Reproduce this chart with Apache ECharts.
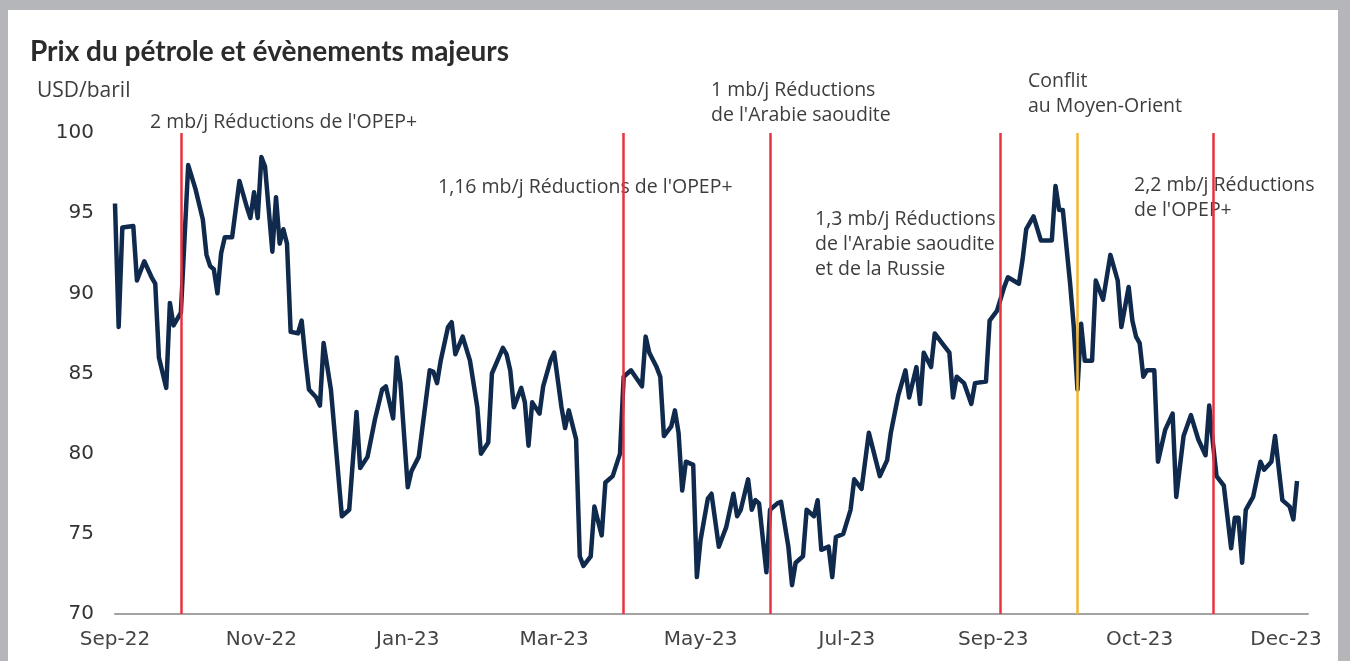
<!DOCTYPE html>
<html>
<head>
<meta charset="utf-8">
<script src="https://cdn.jsdelivr.net/npm/echarts@6/dist/echarts.min.js"></script>
<style>
html, body { margin: 0; padding: 0; background: #b4b6b9; }
#main { width: 1350px; height: 661px; }
</style>
</head>
<body>
<div id="main"></div>
<script>
// libellés de l'axe des x (un tous les 40 jours de cotation)
var monthLabels = ['Sep-22', 'Nov-22', 'Jan-23', 'Mar-23', 'May-23', 'Jul-23', 'Sep-23', 'Oct-23', 'Dec-23'];

// jour de cotation (index) et prix du baril
var days = [0, 1, 2, 5, 6, 8, 10, 11, 12, 14, 15, 16, 18, 20, 22, 24, 25, 26, 27, 28, 29, 30, 32, 34, 36, 37, 38, 39, 40, 41, 43, 44, 45, 46, 47, 48, 50, 51, 52, 53, 55, 56, 57, 59, 62, 64, 66, 67, 69, 71, 73, 74, 76, 77, 78, 80, 81, 83, 86, 87, 88, 89, 91, 92, 93, 95, 97, 99, 100, 102, 103, 106, 107, 108, 109, 111, 112, 113, 114, 116, 117, 119, 120, 122, 123, 124, 126, 127, 128, 130, 131, 133, 134, 136, 138, 139, 141, 144, 145, 146, 148, 149, 150, 152, 153, 154, 155, 156, 158, 159, 160, 162, 163, 165, 166, 167, 169, 170, 171, 173, 174, 175, 176, 178, 179, 181, 182, 184, 185, 186, 188, 189, 191, 192, 193, 195, 196, 197, 199, 201, 202, 204, 206, 209, 211, 212, 214, 216, 217, 219, 220, 221, 223, 224, 226, 228, 229, 230, 232, 234, 235, 238, 239, 241, 243, 244, 247, 248, 249, 251, 253, 256, 257, 258, 259, 261, 262, 263, 264, 265, 267, 268, 270, 272, 274, 275, 277, 278, 279, 280, 281, 282, 284, 285, 287, 289, 290, 292, 294, 296, 298, 299, 300, 301, 303, 305, 306, 307, 308, 309, 311, 313, 314, 316, 317, 319, 321, 322, 323];
var prices = [95.6, 87.9, 94.1, 94.2, 90.8, 92.0, 91.0, 90.6, 86.0, 84.1, 89.4, 88.0, 88.8, 98.0, 96.5, 94.6, 92.4, 91.7, 91.5, 90.0, 92.5, 93.5, 93.5, 97.0, 95.4, 94.7, 96.3, 94.7, 98.5, 97.9, 92.6, 96.0, 93.1, 94.0, 93.1, 87.6, 87.5, 88.3, 86.0, 84.0, 83.5, 83.0, 86.9, 84.0, 76.1, 76.5, 82.6, 79.1, 79.8, 82.1, 84.0, 84.2, 82.2, 86.0, 84.4, 77.9, 78.9, 79.8, 85.2, 85.1, 84.4, 85.8, 87.9, 88.2, 86.2, 87.3, 85.8, 82.9, 80.0, 80.7, 85.0, 86.6, 86.2, 85.2, 82.9, 84.1, 83.2, 80.5, 83.2, 82.5, 84.2, 85.8, 86.3, 82.9, 81.6, 82.7, 80.9, 73.6, 73.0, 73.6, 76.7, 74.9, 78.2, 78.6, 80.0, 84.8, 85.2, 84.2, 87.3, 86.3, 85.4, 84.8, 81.1, 81.7, 82.7, 81.3, 77.7, 79.5, 79.3, 72.3, 74.6, 77.2, 77.5, 74.2, 74.8, 75.4, 77.5, 76.1, 76.5, 78.4, 76.5, 77.1, 76.9, 72.6, 76.5, 76.9, 77.0, 74.2, 71.8, 73.2, 73.6, 76.5, 76.1, 77.1, 74.0, 74.2, 72.3, 74.8, 75.0, 76.5, 78.4, 77.8, 81.3, 78.6, 79.6, 81.3, 83.6, 85.2, 83.5, 85.4, 83.1, 86.3, 85.4, 87.5, 86.9, 86.3, 83.5, 84.8, 84.4, 83.1, 84.4, 84.5, 88.3, 88.9, 90.4, 91.0, 90.6, 92.1, 94.0, 94.8, 93.3, 93.3, 96.7, 95.2, 95.2, 90.6, 87.9, 84.0, 88.1, 85.8, 85.8, 90.8, 89.6, 92.4, 90.8, 87.9, 90.4, 88.3, 87.3, 86.9, 84.8, 85.2, 85.2, 79.5, 81.5, 82.5, 77.3, 81.1, 82.4, 80.9, 79.9, 83.0, 80.7, 78.6, 78.0, 74.1, 76.0, 76.0, 73.2, 76.5, 77.3, 79.5, 79.0, 79.5, 81.1, 77.1, 76.7, 75.9, 78.3];

// évènements majeurs
var eventDays = [18, 139, 179, 242, 263, 300];
var eventKinds = ['cut', 'cut', 'cut', 'cut', 'conflict', 'cut'];
var eventTexts = [
	"2 mb/j Réductions de l'OPEP+",
	"1,16 mb/j Réductions de l'OPEP+",
	"1 mb/j Réductions\nde l'Arabie saoudite",
	"1,3 mb/j Réductions\nde l'Arabie saoudite\net de la Russie",
	"Conflit\nau Moyen-Orient",
	"2,2 mb/j Réductions\nde l'OPEP+"
];

var yTicks = [70, 75, 80, 85, 90, 95, 100];

function makeChart() {
	var chartDom = document.getElementById('main');
	var chart = echarts.init(chartDom);

	var seriesData = [];
	for (var i = 0; i < days.length; i++) {
		seriesData.push([days[i], prices[i]]);
	}

	var lineData = [];
	for (var j = 0; j < eventDays.length; j++) {
		lineData.push({
			xAxis: eventDays[j],
			lineStyle: {
				color: eventKinds[j] == 'conflict' ? '#f3b52f' : '#e8323f',
				width: 2.5,
				type: 'solid'
			}
		});
	}

	// position des textes d'annotation (pixels)
	var textPos = [[150, 110], [438, 175], [711, 78], [815, 207], [1028, 69], [1134, 173]];
	var annotations = [];
	for (var k = 0; k < eventTexts.length; k++) {
		annotations.push({
			type: 'text',
			z: 1,
			style: {
				x: textPos[k][0],
				y: textPos[k][1],
				text: eventTexts[k],
				font: '19.5px "Open Sans"',
				fill: '#3d3d3d',
				lineHeight: 25,
				verticalAlign: 'top'
			}
		});
	}

	var option = {
		backgroundColor: '#b4b6b9',
		animation: false,
		graphic: [{
			type: 'rect',
			z: -10,
			shape: { x: 8, y: 10, width: 1330, height: 660 },
			style: { fill: '#ffffff' }
		}, {
			type: 'text',
			z: 1,
			style: {
				x: 30, y: 52,
				text: 'Prix du pétrole et évènements majeurs',
				font: 'bold 28px Lato',
				fill: '#2b2b2b',
				verticalAlign: 'middle'
			}
		}, {
			type: 'text',
			z: 1,
			style: {
				x: 37, y: 91,
				text: 'USD/baril',
				font: '21px "Open Sans"',
				fill: '#3d3d3d',
				verticalAlign: 'middle'
			}
		}].concat(annotations),
		grid: {
			left: 115,
			right: 42,
			top: 133,
			bottom: 47,
			containLabel: false
		},
		xAxis: {
			type: 'value',
			min: 0,
			max: 326,
			interval: 40,
			axisLine: { show: true, lineStyle: { color: '#a3a3a3', width: 2 } },
			axisTick: { show: false },
			splitLine: { show: false },
			axisLabel: {
				margin: 16,
				color: '#444',
				fontFamily: 'DejaVu Sans',
				fontSize: 20,
				formatter: function(v) {
					if (v % 40 != 0) return '';
					return monthLabels[v / 40] || '';
				}
			}
		},
		yAxis: {
			type: 'value',
			min: yTicks[0],
			max: yTicks[yTicks.length - 1],
			interval: 5,
			axisLine: { show: false },
			axisTick: { show: false },
			splitLine: { show: false },
			axisLabel: {
				margin: 21,
				color: '#333',
				fontFamily: 'DejaVu Sans',
				fontSize: 20
			}
		},
		series: [{
			type: 'line',
			data: seriesData,
			showSymbol: false,
			z: 2,
			lineStyle: { color: '#0f2a4c', width: 4.5, join: 'round' },
			markLine: {
				silent: true,
				symbol: ['none', 'none'],
				label: { show: false },
				data: lineData
			}
		}]
	};

	chart.setOption(option);
}

makeChart();
</script>
</body>
</html>
